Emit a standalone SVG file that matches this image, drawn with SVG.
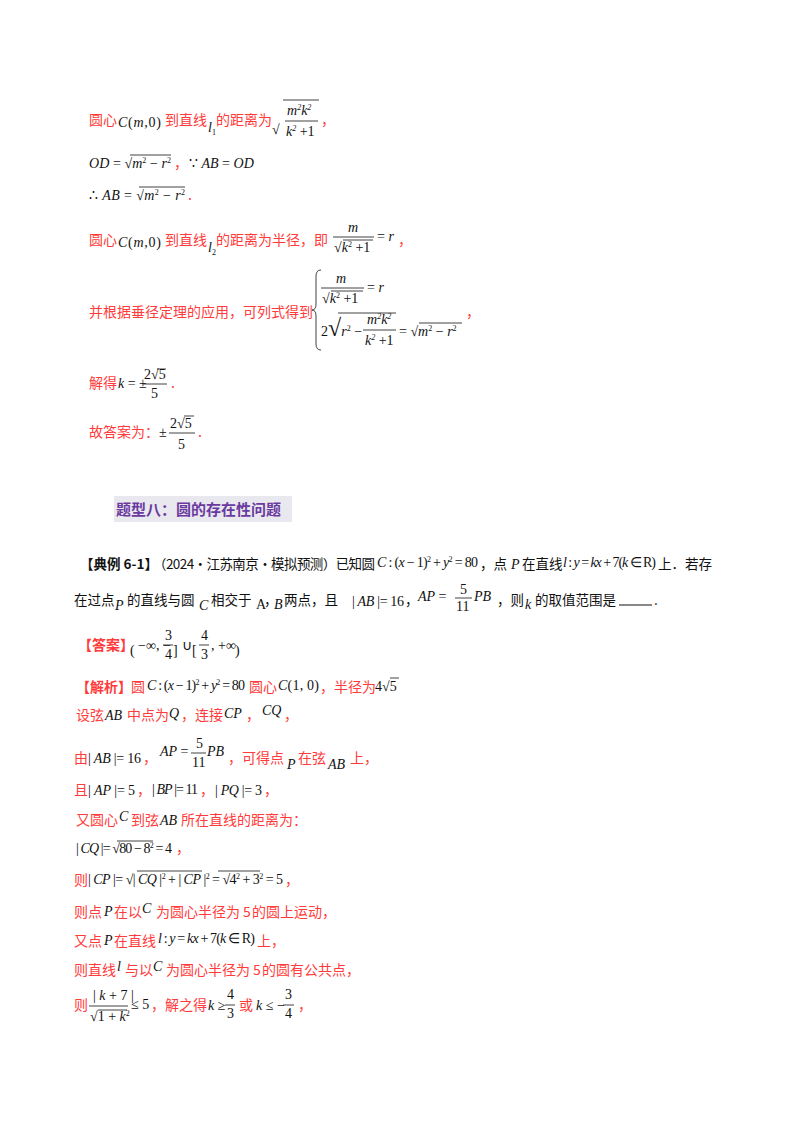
<svg xmlns="http://www.w3.org/2000/svg" width="800" height="1132" viewBox="0 0 800 1132">
<style>
.r{font-family:"Noto Sans CJK SC",sans-serif;font-size:14px;fill:#ff3b3b}
.b{font-family:"Noto Sans CJK SC",sans-serif;font-size:13.5px;fill:#111}
.n{font-family:"Liberation Serif",serif;font-size:14px;fill:#111}
.i{font-style:italic}
.s{font-size:8px}
.l{stroke:#111;stroke-width:0.8;fill:none}
</style>
<rect width="800" height="1132" fill="#fff"/>
<g transform="translate(13,0)">
<g id="line1">
<text x="76" y="125" class="r">圆心</text>
<text x="105" y="127" class="n" textLength="43"><tspan class="i">C</tspan>(<tspan class="i">m</tspan>,0)</text>
<text x="152" y="125" class="r">到直线</text>
<text x="195" y="132" class="n i">l<tspan class="s" font-style="normal" dy="3">1</tspan></text>
<text x="203" y="125" class="r">的距离为</text>
<text x="259" y="134" class="n" font-size="22">√</text>
<path class="l" d="M270 100 H306"/>
<text x="274" y="115" class="n i">m<tspan class="s" dy="-5">2</tspan><tspan dy="5">k</tspan><tspan class="s" dy="-5">2</tspan></text>
<path class="l" d="M272 121 H305"/>
<text x="273" y="136" class="n i">k<tspan class="s" dy="-5">2</tspan><tspan font-style="normal" dy="5"> +1</tspan></text>
<text x="308" y="125" class="r">，</text>
</g>
<g id="line2">
<text x="76" y="168" class="n" textLength="82"><tspan class="i">OD</tspan> = √<tspan class="i">m</tspan><tspan class="s" dy="-5">2</tspan><tspan dy="5"> − </tspan><tspan class="i">r</tspan><tspan class="s" dy="-5">2</tspan></text>
<path class="l" d="M117 155 H158"/>
<text x="161" y="168" class="r">，</text>
<text x="176" y="168" class="n">∵ <tspan class="i">AB</tspan> = <tspan class="i">OD</tspan></text>
</g>
<g id="line3">
<text x="76" y="200" class="n" textLength="96">∴ <tspan class="i">AB</tspan> = √<tspan class="i">m</tspan><tspan class="s" dy="-5">2</tspan><tspan dy="5"> − </tspan><tspan class="i">r</tspan><tspan class="s" dy="-5">2</tspan></text>
<path class="l" d="M126 187 H172"/>
<text x="175" y="200" class="r">.</text>
</g>
<g id="line4">
<text x="76" y="245" class="r">圆心</text>
<text x="105" y="247" class="n" textLength="43"><tspan class="i">C</tspan>(<tspan class="i">m</tspan>,0)</text>
<text x="152" y="245" class="r">到直线</text>
<text x="195" y="252" class="n i">l<tspan class="s" font-style="normal" dy="3">2</tspan></text>
<text x="203" y="245" class="r">的距离为半径，即</text>
<text x="335" y="232" class="n i">m</text>
<path class="l" d="M320 237 H361"/>
<text x="321" y="252" class="n">√<tspan class="i">k</tspan><tspan class="s" dy="-5">2</tspan><tspan dy="5"> +1</tspan></text>
<path class="l" d="M330 240 H360"/>
<text x="364" y="241" class="n">= <tspan class="i">r</tspan></text>
<text x="385" y="245" class="r">，</text>
</g>
<g id="line5">
<text x="76" y="317" class="r">并根据垂径定理的应用，可列式得到</text>
<path class="l" d="M308 270 Q303 270 303 276 V304 Q303 310 299 310 Q303 310 303 316 V344 Q303 350 308 350"/>
<text x="323" y="283" class="n i">m</text>
<path class="l" d="M308 288 H351"/>
<text x="309" y="303" class="n">√<tspan class="i">k</tspan><tspan class="s" dy="-5">2</tspan><tspan dy="5"> +1</tspan></text>
<path class="l" d="M318 291 H350"/>
<text x="354" y="292" class="n">= <tspan class="i">r</tspan></text>
<text x="308" y="336" class="n">2<tspan font-size="24">√</tspan><tspan class="i">r</tspan><tspan class="s" dy="-5">2</tspan><tspan dy="5"> − </tspan></text>
<path class="l" d="M325 313 H383"/>
<text x="354" y="324" class="n i">m<tspan class="s" dy="-5">2</tspan><tspan dy="5">k</tspan><tspan class="s" dy="-5">2</tspan></text>
<path class="l" d="M350 330 H383"/>
<text x="352" y="345" class="n i">k<tspan class="s" dy="-5">2</tspan><tspan font-style="normal" dy="5"> +1</tspan></text>
<text x="386" y="336" class="n">= √<tspan class="i">m</tspan><tspan class="s" dy="-5">2</tspan><tspan dy="5"> − </tspan><tspan class="i">r</tspan><tspan class="s" dy="-5">2</tspan></text>
<path class="l" d="M406 323 H449"/>
<text x="453" y="317" class="r">，</text>
</g>
<g id="line6">
<text x="76" y="388" class="r">解得</text>
<text x="105" y="388" class="n" font-size="12"><tspan class="i">k</tspan> = ±</text>
<text x="131" y="379" class="n" font-size="13">2√5</text>
<path class="l" d="M144 369 H153"/>
<path class="l" d="M130 384 H154"/>
<text x="138" y="398" class="n" font-size="13">5</text>
<text x="158" y="388" class="r">.</text>
</g>
<g id="line7">
<text x="76" y="437" class="r">故答案为：</text>
<text x="146" y="437" class="n">±</text>
<text x="157" y="428" class="n">2√5</text>
<path class="l" d="M171 416 H181"/>
<path class="l" d="M156 433 H182"/>
<text x="165" y="449" class="n">5</text>
<text x="185" y="437" class="r">.</text>
</g>
</g>
<g id="title">
<rect x="114" y="496" width="178" height="26" fill="#e8e8ee"/>
<text x="116" y="515" font-family="Noto Sans CJK SC,sans-serif" font-size="15" font-weight="bold" fill="#6a3aa0">题型八：圆的存在性问题</text>
</g>
<g id="example">
<text x="80" y="569" class="b" font-weight="bold">【典例 6-1】</text>
<text x="153" y="569" class="b" textLength="222">（2024·江苏南京·模拟预测）已知圆</text>
<text x="377" y="567" class="n" font-size="12" textLength="101"><tspan class="i">C</tspan> : (<tspan class="i">x</tspan> − 1)<tspan class="s" dy="-5">2</tspan><tspan dy="5"> + </tspan><tspan class="i">y</tspan><tspan class="s" dy="-5">2</tspan><tspan dy="5"> = 80</tspan></text>
<text x="480" y="569" class="b">，点</text>
<text x="511" y="569" class="n i" font-size="12">P</text>
<text x="522" y="569" class="b">在直线</text>
<text x="563" y="567" class="n" font-size="12" textLength="93"><tspan class="i">l</tspan> : <tspan class="i">y</tspan> = <tspan class="i">kx</tspan> + 7(<tspan class="i">k</tspan> ∈ R)</text>
<text x="658" y="569" class="b">上．若存</text>
<text x="74" y="605" class="b">在过点</text>
<text x="115" y="610" class="n i" font-size="12">P</text>
<text x="127" y="605" class="b">的直线与圆</text>
<text x="199" y="610" class="n i" font-size="13">C</text>
<text x="211" y="605" class="b">相交于</text>
<text x="256" y="609" class="n" font-size="12">A</text>
<text x="264" y="605" class="b">，</text>
<text x="274" y="609" class="n i" font-size="12">B</text>
<text x="284" y="605" class="b">两点，且</text>
<text x="352" y="606" class="n" font-size="13" textLength="52">| <tspan class="i">AB</tspan> |= 16</text>
<text x="405" y="605" class="b">，</text>
<text x="418" y="601" class="n"><tspan class="i">AP</tspan> =</text>
<text x="460" y="594" class="n" font-size="13">5</text>
<path class="l" d="M455 598 H472"/>
<text x="456" y="611" class="n" font-size="13">11</text>
<text x="474" y="601" class="n i">PB</text>
<text x="497" y="605" class="b">，则</text>
<text x="525" y="609" class="n i" font-size="13">k</text>
<text x="535" y="605" class="b">的取值范围是</text>
<path d="M619 605 H652" stroke="#111" stroke-width="1.2"/>
<text x="654" y="605" class="b">.</text>
</g>
<g id="answer">
<text x="78" y="650" class="r" font-weight="bold">【答案】</text>
<g transform="translate(5,0)">
<text x="125" y="655" class="n" font-size="26">(</text>
<text x="133" y="650" class="n" font-size="12">−∞, −</text>
<text x="160" y="640" class="n" font-size="13">3</text>
<path class="l" d="M158 645 H168"/>
<text x="160" y="659" class="n" font-size="13">4</text>
<text x="168" y="655" class="n" font-size="26">]</text>
<text x="177" y="650" class="n">∪</text>
<text x="187" y="655" class="n" font-size="26">[</text>
<text x="196" y="640" class="n" font-size="13">4</text>
<path class="l" d="M194 645 H204"/>
<text x="196" y="659" class="n" font-size="13">3</text>
<text x="206" y="650" class="n" font-size="12">, +∞</text>
<text x="230" y="655" class="n" font-size="26">)</text>
</g>
</g>
<g id="solution">
<text x="76" y="692" class="r" font-weight="bold">【解析】</text>
<text x="131" y="692" class="r">圆</text>
<text x="147" y="690" class="n" font-size="13" textLength="98"><tspan class="i">C</tspan> : (<tspan class="i">x</tspan> − 1)<tspan class="s" dy="-5">2</tspan><tspan dy="5"> + </tspan><tspan class="i">y</tspan><tspan class="s" dy="-5">2</tspan><tspan dy="5"> = 80</tspan></text>
<text x="249" y="692" class="r">圆心</text>
<text x="278" y="690" class="n" font-size="13" textLength="41"><tspan class="i">C</tspan>(1, 0)</text>
<text x="320" y="692" class="r">，半径为</text>
<text x="375" y="691" class="n">4√5</text>
<path class="l" d="M390 678 H399"/>

<text x="76" y="720" class="r">设弦</text>
<text x="105" y="720" class="n i" font-size="13">AB</text>
<text x="127" y="720" class="r">中点为</text>
<text x="169" y="718" class="n i">Q</text>
<text x="181" y="720" class="r">，连接</text>
<text x="224" y="718" class="n i">CP</text>
<text x="246" y="720" class="r">，</text>
<text x="262" y="715" class="n i">CQ</text>
<text x="284" y="720" class="r">，</text>

<text x="74" y="763" class="r">由</text>
<text x="88" y="763" class="n" font-size="13" textLength="53">| <tspan class="i">AB</tspan> |= 16</text>
<text x="143" y="763" class="r">，</text>
<text x="160" y="756" class="n"><tspan class="i">AP</tspan> =</text>
<text x="196" y="748" class="n" font-size="13">5</text>
<path class="l" d="M191 753 H206"/>
<text x="192" y="767" class="n" font-size="13">11</text>
<text x="207" y="756" class="n i">PB</text>
<text x="228" y="763" class="r">，可得点</text>
<text x="287" y="769" class="n i" font-size="12">P</text>
<text x="298" y="763" class="r">在弦</text>
<text x="328" y="769" class="n i" font-size="13">AB</text>
<text x="350" y="763" class="r">上，</text>

<text x="74" y="795" class="r">且</text>
<text x="88" y="795" class="n" font-size="13" textLength="47">| <tspan class="i">AP</tspan> |= 5</text>
<text x="137" y="795" class="r">，</text>
<text x="152" y="794" class="n" font-size="11" textLength="46">| <tspan class="i">BP</tspan> |= 11</text>
<text x="200" y="795" class="r">，</text>
<text x="215" y="795" class="n" font-size="13" textLength="47">| <tspan class="i">PQ</tspan> |= 3</text>
<text x="264" y="795" class="r">，</text>

<text x="76" y="825" class="r">又圆心</text>
<text x="119" y="821" class="n i">C</text>
<text x="131" y="825" class="r">到弦</text>
<text x="160" y="825" class="n i" font-size="13">AB</text>
<text x="181" y="825" class="r">所在直线的距离为：</text>

<text x="76" y="853" class="n" font-size="12" textLength="96">| <tspan class="i">CQ</tspan> |= √80 − 8<tspan class="s" dy="-5">2</tspan><tspan dy="5"> = 4</tspan></text>
<path class="l" d="M117 841 H153"/>
<text x="176" y="853" class="r">，</text>

<text x="74" y="885" class="r">则</text>
<text x="88" y="884" class="n" font-size="12" textLength="195">| <tspan class="i">CP</tspan> |= √| <tspan class="i">CQ</tspan> |<tspan class="s" dy="-5">2</tspan><tspan dy="5"> + | </tspan><tspan class="i">CP</tspan> |<tspan class="s" dy="-5">2</tspan><tspan dy="5"> = √4</tspan><tspan class="s" dy="-5">2</tspan><tspan dy="5"> + 3</tspan><tspan class="s" dy="-5">2</tspan><tspan dy="5"> = 5</tspan></text>
<path class="l" d="M137 871 H202"/>
<path class="l" d="M218 871 H260"/>
<text x="285" y="885" class="r">，</text>

<text x="74" y="917" class="r">则点</text>
<text x="104" y="916" class="n i" font-size="12">P</text>
<text x="114" y="917" class="r">在以</text>
<text x="142" y="913" class="n i">C</text>
<text x="156" y="917" class="r">为圆心半径为</text>
<text x="243" y="917" class="r">5</text>
<text x="252" y="917" class="r">的圆上运动，</text>

<text x="74" y="946" class="r">又点</text>
<text x="104" y="945" class="n i" font-size="12">P</text>
<text x="114" y="946" class="r">在直线</text>
<text x="158" y="943" class="n" font-size="13" textLength="97"><tspan class="i">l</tspan> : <tspan class="i">y</tspan> = <tspan class="i">kx</tspan> + 7(<tspan class="i">k</tspan> ∈ R)</text>
<text x="257" y="946" class="r">上，</text>

<text x="74" y="975" class="r">则直线</text>
<text x="117" y="971" class="n i">l</text>
<text x="125" y="975" class="r">与以</text>
<text x="153" y="971" class="n i">C</text>
<text x="166" y="975" class="r">为圆心半径为</text>
<text x="253" y="975" class="r">5</text>
<text x="262" y="975" class="r">的圆有公共点，</text>

<text x="74" y="1010" class="r">则</text>
<text x="93" y="1000" class="n" font-size="12">| <tspan class="i">k</tspan> + 7 |</text>
<path class="l" d="M89 1006 H128"/>
<text x="90" y="1021" class="n" font-size="12">√1 + <tspan class="i">k</tspan><tspan class="s" dy="-5">2</tspan></text>
<path class="l" d="M98 1010 H127"/>
<text x="131" y="1009" class="n" font-size="12">≤ 5</text>
<text x="151" y="1010" class="r">，解之得</text>
<text x="208" y="1010" class="n"><tspan class="i">k</tspan> ≥</text>
<text x="227" y="999" class="n" font-size="13">4</text>
<path class="l" d="M225 1005 H235"/>
<text x="227" y="1018" class="n" font-size="13">3</text>
<text x="239" y="1010" class="r">或</text>
<text x="256" y="1010" class="n"><tspan class="i">k</tspan> ≤ −</text>
<text x="285" y="999" class="n" font-size="13">3</text>
<path class="l" d="M283 1005 H294"/>
<text x="285" y="1018" class="n" font-size="13">4</text>
<text x="298" y="1010" class="r">，</text>
</g>
</svg>
